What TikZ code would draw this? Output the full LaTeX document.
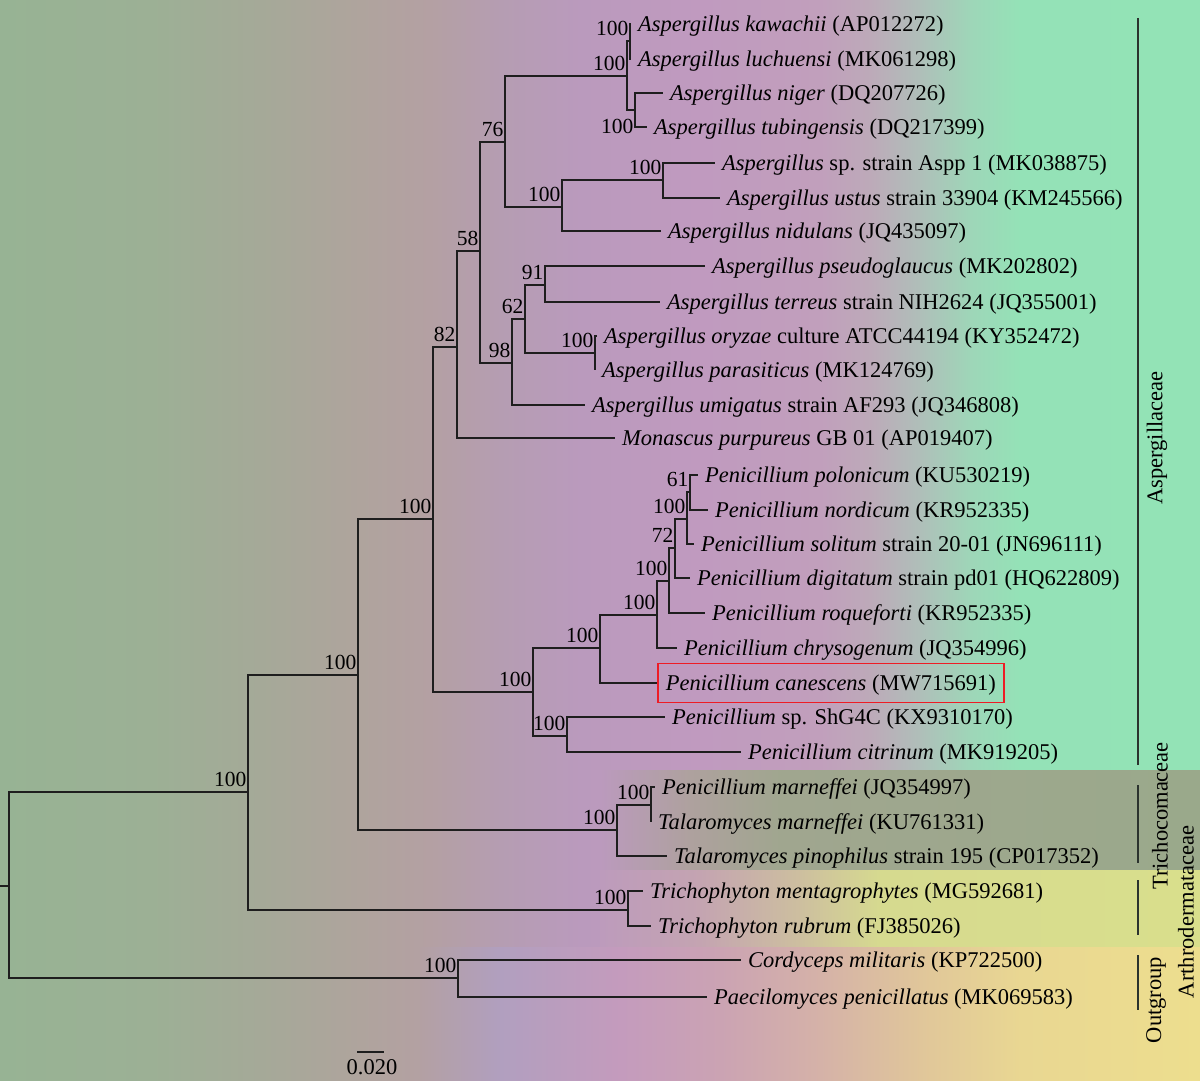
\documentclass[tikz,border=0pt]{standalone}
\usepackage{fontspec}
\setmainfont{Liberation Serif}
\newcommand{\leaffont}{\fontsize{22.5}{27}\selectfont}
\newcommand{\bsfont}{\fontsize{21.5}{25}\selectfont}
\definecolor{treeline}{HTML}{1E1E1E}
\definecolor{barline}{HTML}{2B332E}
\definecolor{boxred}{HTML}{EE1C25}

\begin{document}
\begin{tikzpicture}[x=1pt,y=-1pt,
  br/.style={draw=treeline,line width=1.4pt,to path={|- (\tikztotarget)}},
  leaf/.style={anchor=west,inner xsep=7pt,inner ysep=2pt,text height=20pt,text depth=5pt,font=\leaffont},
  bs/.style={anchor=south east,inner xsep=1.5pt,inner ysep=5pt,font=\bsfont},
  clade/.style={draw=barline,line width=2pt},
  family/.style={rotate=90,inner sep=0pt,font=\leaffont}]

  \useasboundingbox (0,0) rectangle (1200,1081);
  \foreach \xa/\xb/\ya/\yb/\ca/\cb [evaluate=\xb as \xe using \xb+1] in {
    0/150/0/1081/97B394/9CB095, 150/260/0/1081/9CB095/A5A998,
    260/360/0/1081/A5A998/AFA49D, 360/430/0/1081/AFA49D/B4A0A3,
    430/500/0/1081/B4A0A3/B59DB2, 500/580/0/1081/B59DB2/BA9ABD,
    580/700/0/1081/BA9ABD/C09ABF, 700/820/0/1081/C09ABF/C19FBC,
    820/870/0/1081/C19FBC/BDAAB9, 870/920/0/1081/BDAAB9/AFBFB9,
    920/970/0/1081/AFBFB9/9ED6B8, 970/1020/0/1081/9ED6B8/94E2B7,
    1020/1200/0/1081/94E2B7/93E3B6,
    600/690/770/870/BB9ABD/AEA19E, 690/780/770/870/AEA19E/A0A68F,
    780/1200/770/870/A0A68F/9AA98B,
    600/700/870/947/BD9BBC/C4A4B1, 700/800/870/947/C4A4B1/CDBF9F,
    800/880/870/947/CDBF9F/D6DA8F, 880/1200/870/947/D6DA8F/D9DF8C,
    420/500/947/1081/B3A0A3/B19FBF, 500/620/947/1081/B19FBF/C49BBD,
    620/720/947/1081/C49BBD/CBA3B3, 720/820/947/1081/CBA3B3/D5B2A8,
    820/920/947/1081/D5B2A8/E0C69A, 920/1020/947/1081/E0C69A/E9D792,
    1020/1200/947/1081/E9D792/EDDE8E}{
    \definecolor{cl}{HTML}{\ca}\definecolor{cr}{HTML}{\cb}
    \fill[left color=cl,right color=cr] (\xa,\ya) rectangle (\xe,\yb);
  }

  \coordinate (stub) at (0,886);
  \coordinate (root) at (9,886);
  \coordinate (A) at (248,792);
  \coordinate (B) at (358,675);
  \coordinate (C) at (433,519);
  \coordinate (D) at (457,347);
  \coordinate (E) at (480,251);
  \coordinate (F) at (505,142);
  \coordinate (N2) at (627,76);
  \coordinate (N1) at (630,41);
  \coordinate (N3) at (635,110);
  \coordinate (G) at (562,207);
  \coordinate (H) at (663,180);
  \coordinate (I) at (512,363);
  \coordinate (J) at (525,319);
  \coordinate (K) at (545,285);
  \coordinate (L) at (595,353);
  \coordinate (M) at (533,692);
  \coordinate (N) at (600,648);
  \coordinate (O) at (657,615);
  \coordinate (P) at (669,581);
  \coordinate (Q) at (675,548);
  \coordinate (R) at (687,519);
  \coordinate (S) at (690,492);
  \coordinate (T) at (567,736);
  \coordinate (trc) at (617,830);
  \coordinate (trc2) at (651,805);
  \coordinate (tri) at (628,910);
  \coordinate (out) at (458,978);

  \node[leaf] (kawachii) at (631,24) {\textit{Aspergillus kawachii} (AP012272)};
  \node[leaf] (luchuensi) at (631,59) {\textit{Aspergillus luchuensi} (MK061298)};
  \node[leaf] (niger) at (663,93) {\textit{Aspergillus niger} (DQ207726)};
  \node[leaf] (tubing) at (647,127) {\textit{Aspergillus tubingensis} (DQ217399)};
  \node[leaf] (aspp) at (715,163) {\textit{Aspergillus} sp. strain Aspp 1 (MK038875)};
  \node[leaf] (ustus) at (720,198) {\textit{Aspergillus ustus} strain 33904 (KM245566)};
  \node[leaf] (nidulans) at (661,231) {\textit{Aspergillus nidulans} (JQ435097)};
  \node[leaf] (pseudo) at (705,266) {\textit{Aspergillus pseudoglaucus} (MK202802)};
  \node[leaf] (terreus) at (660,302) {\textit{Aspergillus terreus} strain NIH2624 (JQ355001)};
  \node[leaf] (oryzae) at (597,336) {\textit{Aspergillus oryzae} culture ATCC44194 (KY352472)};
  \node[leaf] (parasit) at (595,370) {\textit{Aspergillus parasiticus} (MK124769)};
  \node[leaf] (umigatus) at (585,405) {\textit{Aspergillus umigatus} strain AF293 (JQ346808)};
  \node[leaf] (monascus) at (615,438) {\textit{Monascus purpureus} GB 01 (AP019407)};
  \node[leaf] (polonicum) at (698,475) {\textit{Penicillium polonicum} (KU530219)};
  \node[leaf] (nordicum) at (708,510) {\textit{Penicillium nordicum} (KR952335)};
  \node[leaf] (solitum) at (694,544) {\textit{Penicillium solitum} strain 20-01 (JN696111)};
  \node[leaf] (digitatum) at (690,578) {\textit{Penicillium digitatum} strain pd01 (HQ622809)};
  \node[leaf] (roquef) at (705,613) {\textit{Penicillium roqueforti} (KR952335)};
  \node[leaf] (chryso) at (677,648) {\textit{Penicillium chrysogenum} (JQ354996)};
  \node[leaf,draw=boxred,line width=1.8pt,inner xsep=8pt,inner ysep=7pt] (canescens) at (657,683) {\textit{Penicillium canescens} (MW715691)};
  \node[leaf] (shg) at (665,717) {\textit{Penicillium} sp. ShG4C (KX9310170)};
  \node[leaf] (citrinum) at (741,752) {\textit{Penicillium citrinum} (MK919205)};
  \node[leaf] (pmarn) at (655,787) {\textit{Penicillium marneffei} (JQ354997)};
  \node[leaf] (tmarn) at (651,822) {\textit{Talaromyces marneffei} (KU761331)};
  \node[leaf] (pino) at (667,856) {\textit{Talaromyces pinophilus} strain 195 (CP017352)};
  \node[leaf] (menta) at (643,891) {\textit{Trichophyton mentagrophytes} (MG592681)};
  \node[leaf] (rubrum) at (651,926) {\textit{Trichophyton rubrum} (FJ385026)};
  \node[leaf] (cordy) at (741,960) {\textit{Cordyceps militaris} (KP722500)};
  \node[leaf] (paec) at (707,997) {\textit{Paecilomyces penicillatus} (MK069583)};

  \path (stub) edge[br] (root);
  \path (root) edge[br] (A) edge[br] (out);
  \path (A) edge[br] (B) edge[br] (tri);
  \path (B) edge[br] (C) edge[br] (trc);
  \path (C) edge[br] (D) edge[br] (M);
  \path (D) edge[br] (E) edge[br] (monascus.west);
  \path (E) edge[br] (F) edge[br] (I);
  \path (F) edge[br] (N2) edge[br] (G);
  \path (N2) edge[br] (N1) edge[br] (N3);
  \path (N1) edge[br] (kawachii.west) edge[br] (luchuensi.west);
  \path (N3) edge[br] (niger.west) edge[br] (tubing.west);
  \path (G) edge[br] (H) edge[br] (nidulans.west);
  \path (H) edge[br] (aspp.west) edge[br] (ustus.west);
  \path (I) edge[br] (J) edge[br] (umigatus.west);
  \path (J) edge[br] (K) edge[br] (L);
  \path (K) edge[br] (pseudo.west) edge[br] (terreus.west);
  \path (L) edge[br] (oryzae.west) edge[br] (parasit.west);
  \path (M) edge[br] (N) edge[br] (T);
  \path (N) edge[br] (O) edge[br] (canescens.west);
  \path (O) edge[br] (P) edge[br] (chryso.west);
  \path (P) edge[br] (Q) edge[br] (roquef.west);
  \path (Q) edge[br] (R) edge[br] (digitatum.west);
  \path (R) edge[br] (S) edge[br] (solitum.west);
  \path (S) edge[br] (polonicum.west) edge[br] (nordicum.west);
  \path (T) edge[br] (shg.west) edge[br] (citrinum.west);
  \path (trc) edge[br] (trc2) edge[br] (pino.west);
  \path (trc2) edge[br] (pmarn.west) edge[br] (tmarn.west);
  \path (tri) edge[br] (menta.west) edge[br] (rubrum.west);
  \path (out) edge[br] (cordy.west) edge[br] (paec.west);

  \node[bs] (bA) at (A) {100};
  \node[bs] (bB) at (B) {100};
  \node[bs] (bC) at (C) {100};
  \node[bs] (bD) at (D) {82};
  \node[bs] (bE) at (E) {58};
  \node[bs] (bF) at (F) {76};
  \node[bs] (bN1) at (N1) {100};
  \node[bs] (bN2) at (N2) {100};
  \node[bs,anchor=north east,yshift=-4pt] (bN3) at (N3) {100};
  \node[bs] (bG) at (G) {100};
  \node[bs] (bH) at (H) {100};
  \node[bs] (bI) at (I) {98};
  \node[bs] (bJ) at (J) {62};
  \node[bs] (bK) at (K) {91};
  \node[bs] (bL) at (L) {100};
  \node[bs] (bM) at (M) {100};
  \node[bs] (bN) at (N) {100};
  \node[bs] (bO) at (O) {100};
  \node[bs] (bP) at (P) {100};
  \node[bs] (bQ) at (Q) {72};
  \node[bs] (bR) at (R) {100};
  \node[bs] (bS) at (S) {61};
  \node[bs] (bT) at (T) {100};
  \node[bs] (btrc) at (trc) {100};
  \node[bs] (btrc2) at (trc2) {100};
  \node[bs] (btri) at (tri) {100};
  \node[bs] (bout) at (out) {100};

  \coordinate (aspT) at (1138,18);
  \coordinate (aspB) at (1138,765);
  \coordinate (trcT) at (1138,785);
  \coordinate (trcB) at (1138,863);
  \coordinate (artT) at (1138,880);
  \coordinate (artB) at (1138,935);
  \coordinate (outT) at (1138,955);
  \coordinate (outB) at (1138,1010);
  \draw[clade] (aspT) -- (aspB);
  \draw[clade] (trcT) -- (trcB);
  \draw[clade] (artT) -- (artB);
  \draw[clade] (outT) -- (outB);
  \node[family] (asp) at (1157,438) {Aspergillaceae};
  \node[family] (tric) at (1160,816) {Trichocomaceae};
  \node[family] (arth) at (1186,912) {Arthrodermataceae};
  \node[family] (outg) at (1156,1000) {Outgroup};

  \coordinate (sbL) at (357,1052);
  \coordinate (sbR) at (384,1052);
  \draw[draw=treeline,line width=1.4pt] (sbL) -- (sbR);
  \node[font=\leaffont] (sbT) at (372,1067) {0.020};
\end{tikzpicture}
\end{document}
